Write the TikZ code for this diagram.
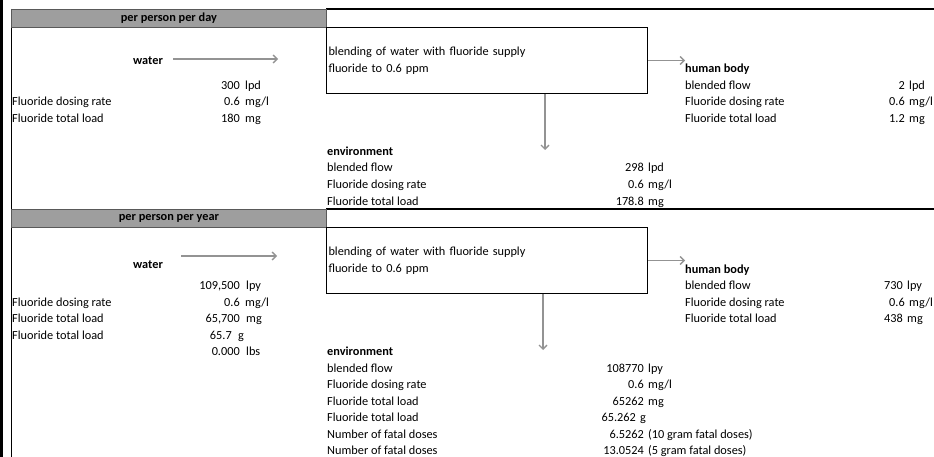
\documentclass[tikz,border=0pt]{standalone}
\usepackage{fontspec}
\setmainfont{Carlito}
\usetikzlibrary{arrows.meta, calc}

\begin{document}
\begin{tikzpicture}[
    x=1pt, y=-1pt,
    font=\fontsize{12.3}{16.5}\selectfont,
    flow/.style={line width=1.3pt, gray!85, -{Straight Barb[length=4pt, width=8pt]}},
    cell/.style={anchor=base west, inner sep=0pt},
    boldcell/.style={cell, font=\fontsize{12.3}{16.5}\selectfont\bfseries},
    num/.style={anchor=base east, inner sep=0pt},
    unitcell/.style={anchor=base west, inner sep=0pt},
    mixbox/.style={draw, line width=1pt, anchor=north west, minimum width=321pt,
        minimum height=66pt, text width=317pt, align=left, inner sep=2pt},
    header/.style={fill=black!38, draw=black!65, line width=0.8pt, anchor=north west,
        minimum width=315pt, minimum height=18pt, inner sep=0pt,
        font=\fontsize{12.3}{16.5}\selectfont\bfseries},
]
\useasboundingbox (0,0) rectangle (934,457);

% --- Sheet borders ---
\draw[line width=2.6pt] (1.3,0) -- (1.3,457);
\draw[line width=1pt] (11,9) -- (11,457);

% =============================================================================
% Block 1: per person per day
% =============================================================================
\begin{scope}[shift={(0,0)}]

    % --- Header and blending box ---
    \draw[line width=1.2pt] (326,9) -- (934,9);
    \node[header] (headD) at (11,9) {per person per day};
    \node[mixbox] (mixD) at (326,27) {blending of water with fluoride supply\\fluoride to 0.6 ppm};

    % --- Water supply ---
    \node[boldcell] (waterD) at (133,65) {water};
    \coordinate (wsD) at (173,59);
    \coordinate (weD) at (278,59);
    \draw[flow] (wsD) -- (weD);

    \node[num] (qD) at (240,89.5) {300};
    \node[unitcell] (quD) at (245,89.5) {lpd};
    \node[cell] (rateD) at (12,106) {Fluoride dosing rate};
    \node[num] (rvD) at (240,106) {0.6};
    \node[unitcell] (ruD) at (245,106) {mg/l};
    \node[cell] (loadD) at (12,122.5) {Fluoride total load};
    \node[num] (lvD) at (240,122.5) {180};
    \node[unitcell] (luD) at (245,122.5) {mg};

    % --- Human body ---
    \node[boldcell] (bodyD) at (685,73) {human body};
    \draw[flow] (mixD.east) -- (mixD.east -| bodyD.west);
    \node[cell] (bflowD) at (685,89.5) {blended flow};
    \node[num] (bfvD) at (905,89.5) {2};
    \node[unitcell] (bfuD) at (909,89.5) {lpd};
    \node[cell] (brateD) at (685,106) {Fluoride dosing rate};
    \node[num] (brvD) at (905,106) {0.6};
    \node[unitcell] (bruD) at (909,106) {mg/l};
    \node[cell] (bloadD) at (685,122.5) {Fluoride total load};
    \node[num] (blvD) at (905,122.5) {1.2};
    \node[unitcell] (bluD) at (909,122.5) {mg};

    % --- Environment ---
    \coordinate (envinD) at (545,150);
    \draw[flow] (mixD.south -| envinD) -- (envinD);
    \node[boldcell] (envD) at (327,155.5) {environment};
    \node[cell] (eflowD) at (327,172) {blended flow};
    \node[num] (efvD) at (644,172) {298};
    \node[unitcell] (efuD) at (648,172) {lpd};
    \node[cell] (erateD) at (327,188.5) {Fluoride dosing rate};
    \node[num] (ervD) at (644,188.5) {0.6};
    \node[unitcell] (eruD) at (648,188.5) {mg/l};
    \node[cell] (eloadD) at (327,205) {Fluoride total load};
    \node[num] (elvD) at (644,205) {178.8};
    \node[unitcell] (eluD) at (648,205) {mg};
\end{scope}

% =============================================================================
% Block 2: per person per year
% =============================================================================
\begin{scope}[shift={(0,200)}]

    % --- Header and blending box ---
    \draw[line width=1.2pt] (326,9) -- (934,9);
    \node[header] (headY) at (11,9) {per person per year};
    \node[mixbox] (mixY) at (326,27) {blending of water with fluoride supply\\fluoride to 0.6 ppm};

    % --- Water supply ---
    \node[boldcell] (waterY) at (133,68.5) {water};
    \coordinate (wsY) at (181,56);
    \coordinate (weY) at (277,56);
    \draw[flow] (wsY) -- (weY);

    \node[num] (qY) at (240,89.5) {109,500};
    \node[unitcell] (quY) at (246,89.5) {lpy};
    \node[cell] (rateY) at (12,106) {Fluoride dosing rate};
    \node[num] (rvY) at (240,106) {0.6};
    \node[unitcell] (ruY) at (245,106) {mg/l};
    \node[cell] (loadY) at (12,122.5) {Fluoride total load};
    \node[num] (lvY) at (240,122.5) {65,700};
    \node[unitcell] (luY) at (246,122.5) {mg};
    \node[cell] (gloadY) at (12,139) {Fluoride total load};
    \node[num] (gvY) at (232,139) {65.7};
    \node[unitcell] (guY) at (238,139) {g};
    \node[num] (pvY) at (240,155.5) {0.000};
    \node[unitcell] (puY) at (246,155.5) {lbs};

    % --- Human body ---
    \node[boldcell] (bodyY) at (685,73) {human body};
    \draw[flow] (mixY.east) -- (mixY.east -| bodyY.west);
    \node[cell] (bflowY) at (685,89.5) {blended flow};
    \node[num] (bfvY) at (903,89.5) {730};
    \node[unitcell] (bfuY) at (907,89.5) {lpy};
    \node[cell] (brateY) at (685,106) {Fluoride dosing rate};
    \node[num] (brvY) at (905,106) {0.6};
    \node[unitcell] (bruY) at (909,106) {mg/l};
    \node[cell] (bloadY) at (685,122.5) {Fluoride total load};
    \node[num] (blvY) at (903,122.5) {438};
    \node[unitcell] (bluY) at (907,122.5) {mg};

    % --- Environment ---
    \coordinate (envinY) at (543,150);
    \draw[flow] (mixY.south -| envinY) -- (envinY);
    \node[boldcell] (envY) at (327,155.5) {environment};
    \node[cell] (eflowY) at (327,172) {blended flow};
    \node[num] (efvY) at (644,172) {108770};
    \node[unitcell] (efuY) at (648,172) {lpy};
    \node[cell] (erateY) at (327,188.5) {Fluoride dosing rate};
    \node[num] (ervY) at (644,188.5) {0.6};
    \node[unitcell] (eruY) at (648,188.5) {mg/l};
    \node[cell] (eloadY) at (327,205) {Fluoride total load};
    \node[num] (elvY) at (644,205) {65262};
    \node[unitcell] (eluY) at (648,205) {mg};
    \node[cell] (egloadY) at (327,221.5) {Fluoride total load};
    \node[num] (egvY) at (636,221.5) {65.262};
    \node[unitcell] (eguY) at (640,221.5) {g};
    \node[cell] (fatalaY) at (327,238) {Number of fatal doses};
    \node[num] (favY) at (644,238) {6.5262};
    \node[unitcell] (fauY) at (648,238) {(10 gram fatal doses)};
    \node[cell] (fatalbY) at (327,254.5) {Number of fatal doses};
    \node[num] (fbvY) at (644,254.5) {13.0524};
    \node[unitcell] (fbuY) at (648,254.5) {(5 gram fatal doses)};
\end{scope}

\end{tikzpicture}
\end{document}
